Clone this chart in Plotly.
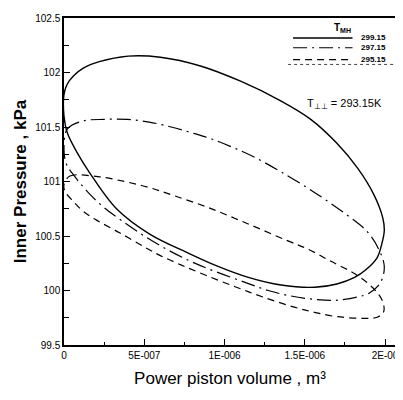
import plotly.graph_objects as go

# ---- data (volume in 1e-6 m^3, pressure in kPa) ----
vol_299 = [0.000, 0.019, 0.060, 0.120, 0.220, 0.400, 0.600, 0.850, 1.100, 1.350, 1.537,
           1.700, 1.830, 1.930, 1.985, 1.995, 1.980, 1.950, 1.880, 1.810, 1.700, 1.562, 1.352, 1.148,
           0.944, 0.778, 0.531, 0.327, 0.160, 0.080, 0.020, 0.000, 0.000]
p_299 = [101.80, 101.89, 101.97, 102.04, 102.10, 102.15, 102.14, 102.06, 101.92, 101.74, 101.57,
         101.35, 101.12, 100.88, 100.67, 100.55, 100.43, 100.30, 100.19, 100.12, 100.06, 100.03, 100.05, 100.12,
         100.23, 100.34, 100.52, 100.75, 101.08, 101.27, 101.45, 101.60, 101.80]

vol_297 = [0.000, 0.020, 0.117, 0.253, 0.395, 0.531, 0.667, 0.800, 0.920, 1.056, 1.190, 1.350,
           1.560, 1.765, 1.889, 1.960, 1.995, 1.970, 1.900, 1.827, 1.691, 1.549, 1.395, 1.272,
           1.136, 0.950, 0.800, 0.650, 0.500, 0.360, 0.250, 0.150, 0.070, 0.015, 0.000]
p_297 = [101.30, 101.48, 101.555, 101.57, 101.57, 101.545, 101.50, 101.445, 101.39, 101.31, 101.22, 101.09,
         100.90, 100.69, 100.54, 100.38, 100.22, 100.07, 99.975, 99.94, 99.91, 99.92, 99.955, 100.00,
         100.07, 100.17, 100.26, 100.37, 100.50, 100.64, 100.76, 100.90, 101.04, 101.16, 101.30]

vol_295 = [0.000, 0.037, 0.210, 0.377, 0.530, 0.685, 0.900, 1.148, 1.395, 1.519, 1.660, 1.809,
           1.920, 1.985, 1.990, 1.950, 1.870, 1.700, 1.560, 1.440, 1.240, 1.074, 0.883, 0.728,
           0.600, 0.500, 0.346, 0.191, 0.117, 0.056, 0.006, 0.000]
p_295 = [100.97, 101.05, 101.045, 101.00, 100.945, 100.87, 100.76, 100.61, 100.455, 100.38, 100.27, 100.155,
         100.03, 99.90, 99.80, 99.755, 99.745, 99.76, 99.80, 99.845, 99.94, 100.03, 100.14, 100.235,
         100.32, 100.40, 100.53, 100.655, 100.73, 100.82, 100.91, 100.97]

series_names = ["299.15", "297.15", "295.15"]
x_tickvals = [0, 5e-7, 1e-6, 1.5e-6, 2e-6]
x_ticktext = ["0", "5E-007", "1E-006", "1.5E-006", "2E-00"]

FONT = "Liberation Sans"
dashes = ["solid", "14px,5px,2px,5px", "7px,5px"]
widths = [1.4, 1.2, 1.2]

fig = go.Figure()
for name, vols, ps, dash, w in zip(series_names, [vol_299, vol_297, vol_295],
                                   [p_299, p_297, p_295], dashes, widths):
    fig.add_trace(go.Scatter(
        x=[v * 1e-6 for v in vols], y=ps, mode="lines", name=name,
        line=dict(color="black", width=w, dash=dash, shape="spline", smoothing=1.0),
        showlegend=False))

fig.update_xaxes(
    range=[0, 2.068e-6], tickvals=x_tickvals, ticktext=x_ticktext,
    ticks="inside", ticklen=6, tickwidth=1, tickcolor="black",
    minor=dict(dtick=2.5e-7, ticks="inside", ticklen=3, tickcolor="black", tick0=0),
    showline=True, linecolor="black", linewidth=1.5, mirror=True,
    showgrid=False, zeroline=False, ticklabeloverflow="allow",
    tickfont=dict(family=FONT, size=10, color="black"),
    title=dict(text="Power piston volume , m³", font=dict(family=FONT, size=17, color="black"),
               standoff=12),
)
fig.update_yaxes(
    range=[99.5, 102.5], dtick=0.5, tick0=99.5,
    ticks="inside", ticklen=6, tickwidth=1, tickcolor="black",
    minor=dict(dtick=0.25, ticks="inside", ticklen=5, tickcolor="black"),
    showline=True, linecolor="black", linewidth=1.5, mirror=True,
    showgrid=False, zeroline=False,
    tickfont=dict(family=FONT, size=10, color="black"),
    title=dict(text="<b>Inner Pressure , kPa</b>", font=dict(family=FONT, size=17, color="black"),
               standoff=4),
)

# temperature note
fig.add_annotation(x=0.965, y=0.736, xref="paper", yref="paper", xanchor="right", yanchor="middle",
                   text="T<sub>⊥⊥</sub> = 293.15K", showarrow=False,
                   font=dict(family=FONT, size=11, color="black"))

# legend (drawn by hand to match the compact box)
fig.add_annotation(x=0.839, y=0.970, xref="paper", yref="paper", xanchor="center", yanchor="middle",
                   text="<b>T<sub>MH</sub></b>", showarrow=False,
                   font=dict(family=FONT, size=10, color="black"))
leg_y = [0.939, 0.909, 0.873]
for name, dash, w, yy in zip(series_names, dashes, widths, leg_y):
    fig.add_shape(type="line", xref="paper", yref="paper", x0=0.690, x1=0.869, y0=yy, y1=yy,
                  line=dict(color="black", width=w, dash=dash))
    fig.add_annotation(x=0.890, y=yy, xref="paper", yref="paper", xanchor="left", yanchor="middle",
                       text="<b>" + name + "</b>", showarrow=False,
                       font=dict(family=FONT, size=8, color="black"))
fig.add_shape(type="line", xref="paper", yref="paper", x0=0.675, x1=1.0, y0=0.858, y1=0.858,
              line=dict(color="#444", width=1, dash="dot"))

# the page has an 8px body margin, so the figure is sized to fit the 403x400 window
fig.update_layout(
    width=395, height=392, margin=dict(l=56, r=4, t=7, b=55),
    plot_bgcolor="white", paper_bgcolor="white", showlegend=False,
)

fig.write_html("out.html")
